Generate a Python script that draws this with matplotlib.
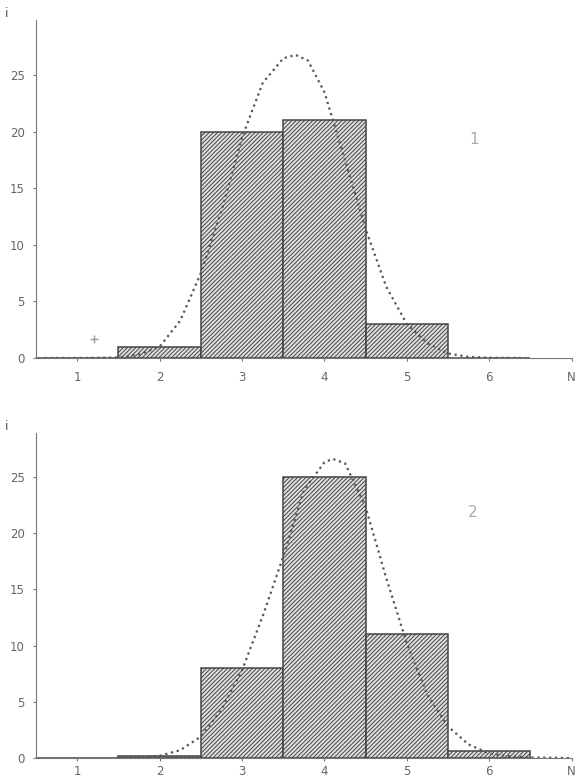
import matplotlib.pyplot as plt

# bar data (class N -> count i)
classes = [1, 2, 3, 4, 5, 6]
counts_1 = [0, 1, 20, 21, 3, 0]
counts_2 = [0, 0.15, 8, 25, 11, 0.6]

# dotted fitted curves
curve_x_1 = [0.6, 1.0, 1.5, 1.75, 2.0, 2.25, 2.5, 2.75, 3.0, 3.25, 3.5, 3.65, 3.8, 4.0, 4.25, 4.5, 4.75, 5.0, 5.25, 5.5, 5.75, 6.0, 6.45]
curve_y_1 = [0, 0, 0.05, 0.3, 1.0, 3.3, 7.5, 13.0, 19.5, 24.3, 26.5, 26.8, 26.3, 23.5, 17.5, 11.4, 6.3, 3.0, 1.3, 0.4, 0.1, 0.02, 0]
curve_x_2 = [1.5, 1.75, 2.0, 2.25, 2.5, 2.75, 3.0, 3.25, 3.5, 3.75, 4.0, 4.1, 4.25, 4.5, 4.75, 5.0, 5.25, 5.5, 5.75, 6.0, 6.25, 6.5, 7.0]
curve_y_2 = [0, 0.05, 0.2, 0.7, 1.9, 4.3, 7.8, 12.6, 17.9, 23.8, 26.3, 26.6, 26.2, 22.3, 16.0, 10.2, 5.6, 2.8, 1.2, 0.4, 0.15, 0.05, 0]

panel_labels = ['1', '2']
panel_label_pos = [(5.82, 19.3), (5.8, 21.8)]
xtick_labels = ['1', '2', '3', '4', '5', '6']

plt.rcParams['hatch.color'] = '#8a8a8a'
plt.rcParams['hatch.linewidth'] = 0.7

fig = plt.figure(figsize=(5.76, 7.81), dpi=100)
ax1 = fig.add_axes([0.0625, 0.5416, 0.93, 0.433])
ax2 = fig.add_axes([0.0625, 0.0294, 0.93, 0.4162])

panels = [(ax1, counts_1, curve_x_1, curve_y_1, 29.9, 7),
          (ax2, counts_2, curve_x_2, curve_y_2, 28.9, 3)]

for k, (ax, counts, cx, cy, ytop, xpad) in enumerate(panels):
    ax.bar(classes, counts, width=1.0, color='#e0e0e0', edgecolor='#444444',
           linewidth=1.1, hatch='////////', zorder=2)
    ax.plot(cx, cy, linestyle=':', color='#555555', linewidth=1.6, zorder=3)
    ax.set_xlim(0.5, 7.0)
    ax.set_ylim(0, ytop)
    ax.spines['top'].set_visible(False)
    ax.spines['right'].set_visible(False)
    ax.spines['left'].set_color('#777777')
    ax.spines['bottom'].set_color('#777777')
    ax.set_xticks(classes + [7])
    ax.set_xticklabels(xtick_labels + ['N'])
    ax.set_yticks([0, 5, 10, 15, 20, 25])
    ax.tick_params(colors='#777777', labelcolor='#666666', labelsize=8.5,
                   length=2)
    ax.tick_params(axis='x', pad=xpad)
    ax.tick_params(axis='y', pad=6)
    ax.text(-0.055, 1.0, 'i', transform=ax.transAxes, color='#555555',
            fontsize=9, ha='center', va='bottom')
    px, py = panel_label_pos[k]
    ax.text(px, py, panel_labels[k], color='#aaaaaa', fontsize=11,
            ha='center', va='center')

ax1.plot([1.2], [1.7], marker='+', color='#999999', markersize=6)

fig.savefig('out.png', dpi=100)
